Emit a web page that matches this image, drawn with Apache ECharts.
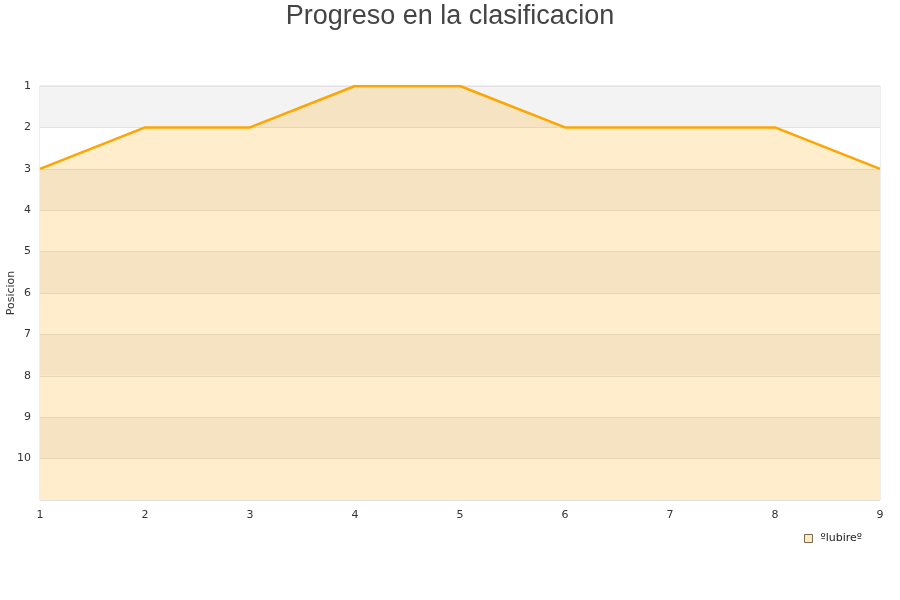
<!DOCTYPE html>
<html><head><meta charset="utf-8">
<script src="https://cdn.jsdelivr.net/npm/echarts@6/dist/echarts.min.js"></script>
<style>html,body{margin:0;padding:0;background:#fff}#c{width:900px;height:600px}</style>
</head><body><div id="c"></div>
<script>
const titleText = 'Progreso en la clasificacion';
const yName = 'Posicion';
const seriesName = 'ºlubireº';
const rounds = ['1','2','3','4','5','6','7','8','9'];
const positions = [3,2,2,1,1,2,2,2,3];

const chart = echarts.init(document.getElementById('c'));
chart.setOption({
  animation: false,
  title: {text: titleText, left: 'center', top: -2,
    textStyle: {fontFamily: 'Liberation Sans', fontSize: 27, fontWeight: 'normal', color: '#444'}},
  grid: {left: 40, right: 20, top: 86, bottom: 100, containLabel: false, outerBoundsMode: 'none',
    show: true, borderColor: '#ddd', borderWidth: 1, backgroundColor: 'transparent'},
  legend: {left: 799, top: 528, icon: 'rect', itemWidth: 8, itemHeight: 8, itemGap: 5,
    textStyle: {fontFamily: 'DejaVu Sans', fontSize: 11, color: '#222', padding: [0,0,0,3]},
    itemStyle: {color: '#fde9c6', borderColor: '#7a6a50', borderWidth: 1},
    data: [seriesName]},
  xAxis: {type: 'category', data: rounds, boundaryGap: false,
    axisLine: {show: false}, axisTick: {show: false},
    axisLabel: {fontFamily: 'DejaVu Sans', fontSize: 11, color: '#333', margin: 10},
    splitLine: {show: false}},
  yAxis: {type: 'value', inverse: true, min: 1, max: 11, interval: 1,
    name: yName, nameLocation: 'middle', nameGap: 23, nameMoveOverlap: false,
    nameTextStyle: {fontFamily: 'DejaVu Sans', fontSize: 11, color: '#333'},
    axisLine: {show: false}, axisTick: {show: false},
    axisLabel: {fontFamily: 'DejaVu Sans', fontSize: 11, color: '#333', margin: 9,
      formatter: v => v === 11 ? '' : String(v)},
    splitLine: {show: true, lineStyle: {color: '#e2e2e2', width: 1}},
    splitArea: {show: true, areaStyle: {color: ['#f3f3f3', '#ffffff']}}},
  series: [{
    name: seriesName, type: 'line', data: positions, symbol: 'none',
    lineStyle: {color: '#ffa500', width: 2.5},
    itemStyle: {color: '#ffa500'},
    areaStyle: {color: '#ffa500', opacity: 0.2, origin: 'end'}
  }]
});
</script></body></html>
